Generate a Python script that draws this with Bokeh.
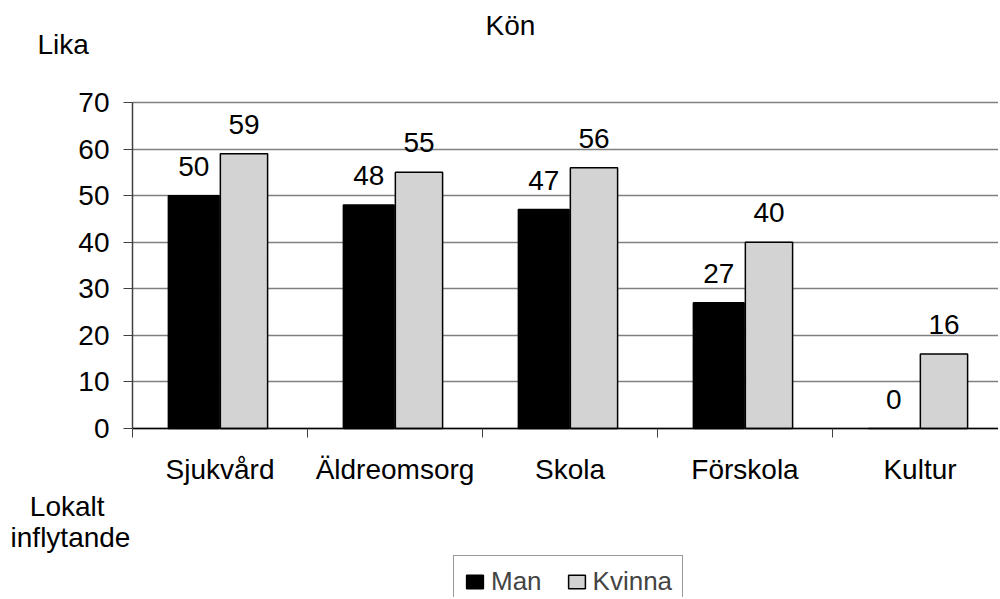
import numpy as np
from bokeh.plotting import figure
from bokeh.models import (ColumnDataSource, Range1d, FixedTicker, LabelSet, Label,
                          Legend, LegendItem, BoxAnnotation)
from bokeh.transform import dodge
from bokeh.core.properties import value
from bokeh.embed import file_html
from bokeh.resources import INLINE

categories = ["Sjukvård", "Äldreomsorg", "Skola", "Förskola", "Kultur"]
man = [50, 48, 47, 27, 0]
kvinna = [59, 55, 56, 40, 16]
series_names = ["Man", "Kvinna"]
yticks = [0, 10, 20, 30, 40, 50, 60, 70]
chart_title = "Kön"
y_title = "Lika"
x_title = ["Lokalt", "inflytande"]

FONT = "Liberation Sans"
FS = "28px"

W, H = 998, 597
X0, Y0 = 132, 428          # pixel position of the data origin
PX_X, PX_Y = 175.0, 326.0 / 70.0
OFF_M, OFF_K = -0.15, 0.137

idx = np.arange(len(categories)) + 0.5
src = ColumnDataSource(dict(x=idx, man=man, kvinna=kvinna,
                            man_txt=[str(v) for v in man],
                            kv_txt=[str(v) for v in kvinna]))

xr = Range1d(-X0 / PX_X, (W - X0) / PX_X)
yr = Range1d((Y0 - H) / PX_Y, Y0 / PX_Y)

p = figure(width=W, height=H, output_backend="svg", toolbar_location=None,
           x_range=xr, y_range=yr, min_border=0)
p.title_location = None
p.outline_line_color = None
p.background_fill_color = "white"
p.border_fill_color = "white"

r_man = p.vbar(x=dodge("x", OFF_M, range=p.x_range), top="man", width=0.29, source=src,
               fill_color="black", line_color="black", line_width=1.5)
r_kv = p.vbar(x=dodge("x", OFF_K, range=p.x_range), top="kvinna", width=0.27, source=src,
              fill_color="#d3d3d3", line_color="black", line_width=1.5)

for col, txt, off in (("man", "man_txt", OFF_M), ("kvinna", "kv_txt", OFF_K)):
    ls = LabelSet(x=dodge("x", off, range=p.x_range), y=col, text=txt, source=src,
                  text_align="center", text_baseline="alphabetic", y_offset=20,
                  text_font=value(FONT), text_font_size=value(FS), text_color="black")
    p.add_layout(ls)

# grid limited to the plot area (right of the value axis)
p.xgrid.grid_line_color = None
p.ygrid.ticker = FixedTicker(ticks=yticks)
p.ygrid.grid_line_color = "#808080"
p.ygrid.grid_line_width = 1.5
ygrid = p.ygrid[0]
if "cross_bounds" in ygrid.properties():
    ygrid.cross_bounds = (0, xr.end)
else:
    p.add_layout(BoxAnnotation(left=xr.start - 0.5, right=0, bottom=yr.start - 5,
                               top=yr.end + 5, fill_color="white", fill_alpha=1.0,
                               line_color=None, level="underlay"))

# axes, fixed at the data origin
p.xaxis.fixed_location = 0
p.xaxis.bounds = (0, xr.end)
p.xaxis.ticker = FixedTicker(ticks=list(idx), minor_ticks=list(range(len(categories) + 1)))
p.xaxis.major_label_overrides = {float(v): c for v, c in zip(idx, categories)}
p.xaxis.major_tick_out = 0
p.xaxis.major_tick_in = 0
p.xaxis.minor_tick_out = 9
p.xaxis.minor_tick_in = 0
p.xaxis.minor_tick_line_color = "#404040"
p.xaxis.axis_line_color = "black"
p.xaxis.axis_line_width = 1.5
p.xaxis.major_label_standoff = 16
p.xaxis.major_label_text_font = FONT
p.xaxis.major_label_text_font_size = FS
p.xaxis.major_label_text_color = "black"

p.yaxis.fixed_location = 0
p.yaxis.bounds = (0, 70)
p.yaxis.ticker = FixedTicker(ticks=yticks)
p.yaxis.minor_tick_line_color = None
p.yaxis.major_tick_out = 9
p.yaxis.major_tick_in = 0
p.yaxis.major_tick_line_color = "#404040"
p.yaxis.axis_line_color = "#404040"
p.yaxis.axis_line_width = 1.5
p.yaxis.major_label_standoff = 14
p.yaxis.major_label_text_font = FONT
p.yaxis.major_label_text_font_size = FS
p.yaxis.major_label_text_color = "black"


def px2x(px):
    return (px - X0) / PX_X


def px2y(py):
    return (Y0 - py) / PX_Y


def add_text(x, y, t, align):
    p.add_layout(Label(x=x, y=y, text=t, text_align=align, text_baseline="alphabetic",
                       text_font=FONT, text_font_size=FS, text_color="black"))


add_text(px2x(510), px2y(25), chart_title, "center")
add_text(px2x(37), px2y(44), y_title, "left")
add_text(px2x(66.7), px2y(506), x_title[0], "center")
add_text(px2x(70), px2y(537), x_title[1], "center")

legend = Legend(items=[LegendItem(label=series_names[0], renderers=[r_man]),
                       LegendItem(label=series_names[1], renderers=[r_kv])],
                orientation="horizontal", location=(453, -11),
                label_text_font=FONT, label_text_font_size="26px",
                glyph_width=21, glyph_height=17, label_standoff=6, spacing=24,
                padding=10, margin=0, border_line_color="#333333", border_line_width=1,
                background_fill_alpha=1.0)
p.add_layout(legend, "center")

open("out.html", "w").write(file_html(p, INLINE))
